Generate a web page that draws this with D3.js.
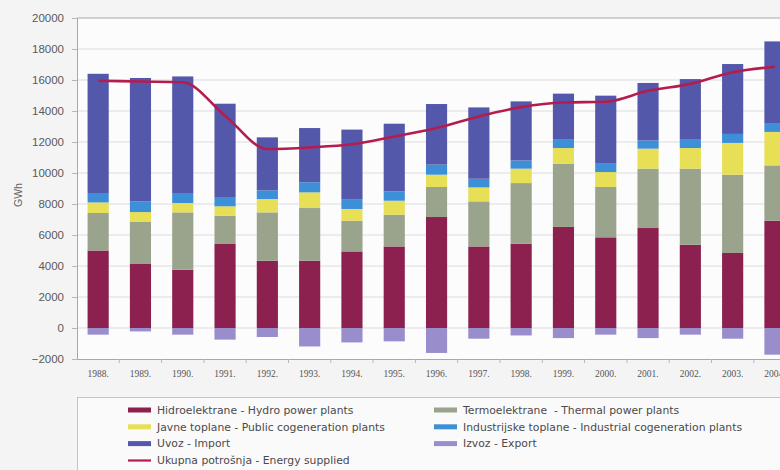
<!DOCTYPE html>
<html>
<head>
<meta charset="utf-8">
<script src="https://cdn.jsdelivr.net/npm/d3@7"></script>
<style>
  html, body { margin: 0; padding: 0; background: #f4f4f4; }
  svg { display: block; }
</style>
</head>
<body>
<svg id="chart" width="780" height="470"></svg>
<script>
const years = ["1988.","1989.","1990.","1991.","1992.","1993.","1994.","1995.","1996.","1997.","1998.","1999.","2000.","2001.","2002.","2003.","2004."];
const hydro      = [5000,4130,3760,5420,4340,4340,4940,5260,7160,5260,5440,6520,5850,6450,5370,4840,6920];
const thermal    = [2420,2710,3700,1830,3120,3400,1980,2050,1940,2910,3910,4080,3250,3830,4910,5050,3570];
const publicCog  = [680,640,600,600,860,1010,760,900,790,900,930,1010,960,1290,1330,2050,2160];
const industrial = [610,690,650,600,560,650,600,600,650,560,530,580,540,530,580,580,530];
const importVals = [7690,7960,7520,6020,3420,3500,4520,4370,3910,4600,3810,2930,4390,3710,3870,4510,5310];
const exportVals = [-430,-220,-430,-750,-580,-1190,-930,-860,-1610,-690,-480,-650,-430,-650,-430,-690,-1720];
const supplied   = [15950,15900,15850,13700,11550,11650,11850,12350,12900,13650,14250,14550,14600,15300,15750,16500,16850];
const yTicks = [-2000,0,2000,4000,6000,8000,10000,12000,14000,16000,18000,20000];

const seriesNames = {
  hydro: "Hidroelektrane - Hydro power plants",
  thermal: "Termoelektrane  - Thermal power plants",
  publicCog: "Javne toplane - Public cogeneration plants",
  industrial: "Industrijske toplane - Industrial cogeneration plants",
  importVals: "Uvoz - Import",
  exportVals: "Izvoz - Export",
  supplied: "Ukupna potrošnja - Energy supplied"
};
const colors = {
  hydro: "#8c2150",
  thermal: "#9aa48c",
  publicCog: "#e7df55",
  industrial: "#3d8fd8",
  importVals: "#5458aa",
  exportVals: "#9a8dcc",
  supplied: "#b51c4e"
};

(function () {
const svg = d3.select("#chart");
const plotLeft = 77, plotTop = 18, plotBottom = 359;
const x = d3.scaleBand().domain(years).range([plotLeft, plotLeft + 17 * 42.3]).paddingInner(0.5).paddingOuter(0.25);
const y = d3.scaleLinear().domain([-2000, 20000]).range([plotBottom, plotTop]);

// plot background
svg.append("rect").attr("x", plotLeft).attr("y", plotTop).attr("width", 780 - plotLeft).attr("height", plotBottom - plotTop).attr("fill", "#fcfcfc");

// gridlines
svg.append("g").selectAll("line").data(yTicks.filter(d => d > -2000 && d < 20000)).join("line")
  .attr("x1", plotLeft).attr("x2", 780).attr("y1", d => y(d)).attr("y2", d => y(d))
  .attr("stroke", "#dcdcdc").attr("stroke-width", 1);

// top border
svg.append("line").attr("x1", plotLeft).attr("x2", 780).attr("y1", y(20000)).attr("y2", y(20000)).attr("stroke", "#a8a8a8");

// stacked bars
const stackKeys = ["hydro","thermal","publicCog","industrial","importVals"];
const seriesData = {hydro, thermal, publicCog, industrial, importVals};
const table = years.map((yr, i) => {
  const o = {year: yr};
  stackKeys.forEach(k => o[k] = seriesData[k][i]);
  return o;
});
const stacked = d3.stack().keys(stackKeys)(table);
const gBars = svg.append("g");
stacked.forEach(layer => {
  gBars.append("g").attr("fill", colors[layer.key]).selectAll("rect").data(layer).join("rect")
    .attr("x", d => x(d.data.year)).attr("width", x.bandwidth())
    .attr("y", d => y(d[1])).attr("height", d => y(d[0]) - y(d[1]));
});
// export bars (negative)
gBars.append("g").attr("fill", colors.exportVals).selectAll("rect").data(exportVals).join("rect")
  .attr("x", (d, i) => x(years[i])).attr("width", x.bandwidth())
  .attr("y", y(0)).attr("height", d => y(d) - y(0));

// energy supplied line
const line = d3.line().x((d, i) => x(years[i]) + x.bandwidth() / 2).y(d => y(d)).curve(d3.curveMonotoneX);
svg.append("path").datum(supplied).attr("d", line).attr("fill", "none")
  .attr("stroke", colors.supplied).attr("stroke-width", 2.6);

// y axis
const yAxis = d3.axisLeft(y).tickValues(yTicks).tickSize(5).tickPadding(8).tickFormat(d3.format("d"));
const gy = svg.append("g").attr("transform", `translate(${plotLeft},0)`).call(yAxis);
gy.select(".domain").attr("stroke", "#a8a8a8");
gy.selectAll(".tick line").attr("stroke", "#b8b8b8");
gy.selectAll(".tick text").attr("fill", "#5a5a5a").attr("font-family", "'Liberation Sans', Arial, sans-serif").attr("font-size", "11.5px");

// x axis
const xAxis = d3.axisBottom(x).tickSize(0).tickPadding(11);
const gx = svg.append("g").attr("transform", `translate(0,${plotBottom})`).call(xAxis);
gx.select(".domain").attr("stroke", "#a8a8a8");
gx.selectAll(".tick text").attr("fill", "#555").attr("font-family", "'Liberation Serif', 'Times New Roman', serif").attr("font-size", "9.5px");
// category separator ticks
svg.append("g").selectAll("line").data(years.slice(1)).join("line")
  .attr("x1", d => x(d) - x.step() * 0.25).attr("x2", d => x(d) - x.step() * 0.25)
  .attr("y1", plotBottom).attr("y2", plotBottom + 4).attr("stroke", "#b8b8b8");

// y label
svg.append("text").attr("transform", "translate(22,195) rotate(-90)").attr("text-anchor", "middle")
  .attr("fill", "#666").attr("font-family", "'Liberation Sans', Arial, sans-serif").attr("font-size", "10.5px").text("GWh");

// legend
svg.append("rect").attr("x", 77.5).attr("y", 397.5).attr("width", 720).attr("height", 90)
  .attr("fill", "#fafafa").attr("stroke", "#c4c4c4");
const legendItems = [
  {k: "hydro", col: 0, row: 0}, {k: "publicCog", col: 0, row: 1}, {k: "importVals", col: 0, row: 2}, {k: "supplied", col: 0, row: 3},
  {k: "thermal", col: 1, row: 0}, {k: "industrial", col: 1, row: 1}, {k: "exportVals", col: 1, row: 2}
];
const colX = [128, 434];
const gl = svg.append("g");
legendItems.forEach(it => {
  const lx = colX[it.col], ly = 410 + it.row * 16.8;
  if (it.k === "supplied") {
    gl.append("rect").attr("x", lx).attr("y", ly - 1).attr("width", 23).attr("height", 2.2).attr("fill", colors[it.k]);
  } else {
    gl.append("rect").attr("x", lx).attr("y", ly - 2.5).attr("width", 23).attr("height", 5).attr("fill", colors[it.k]);
  }
  gl.append("text").attr("x", lx + 29).attr("y", ly).attr("dy", "0.35em")
    .style("white-space", "pre")
    .attr("fill", "#4a4a4a").attr("font-family", "'DejaVu Sans', Verdana, sans-serif").attr("font-size", "10.8px")
    .text(seriesNames[it.k]);
});
})();
</script>
</body>
</html>
